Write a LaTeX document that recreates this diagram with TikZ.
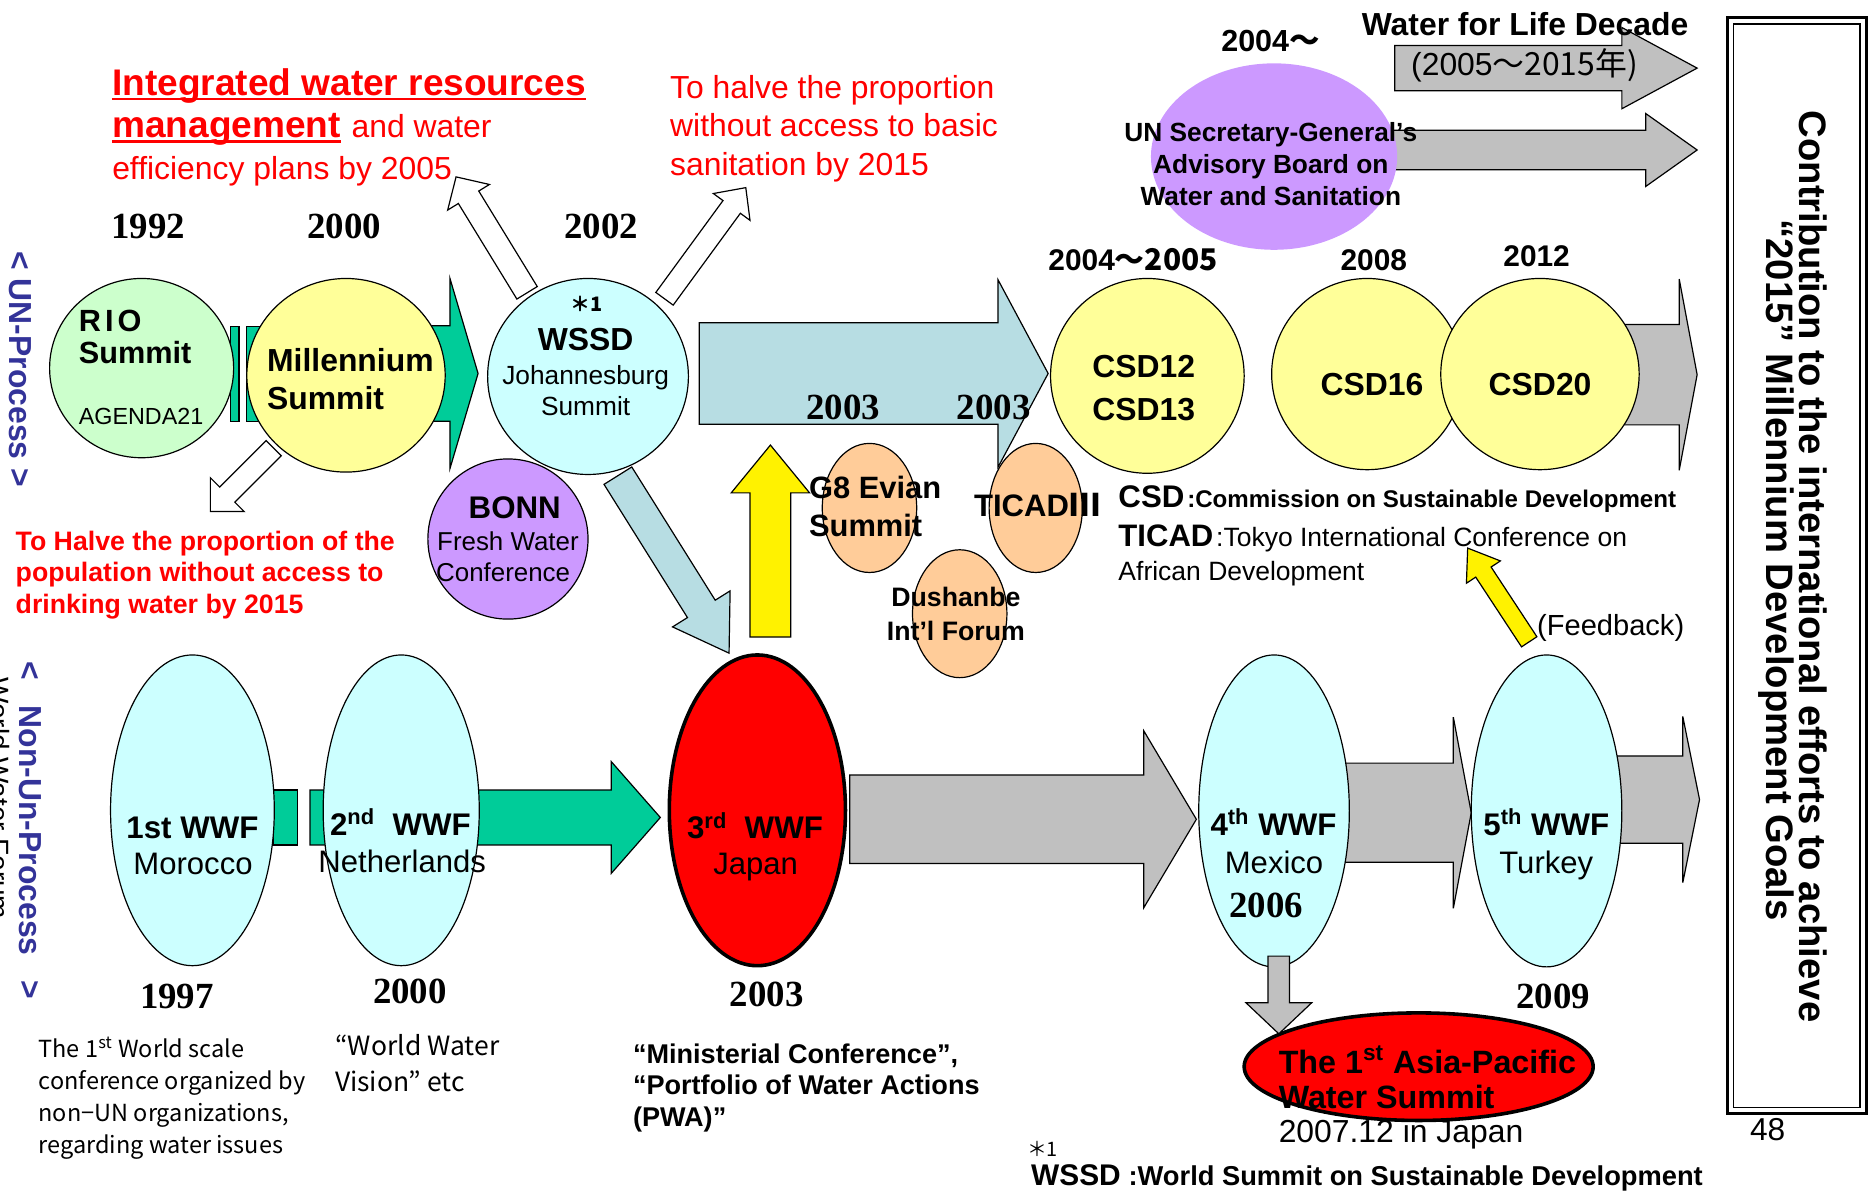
\documentclass[tikz,border=0pt]{standalone}
\usepackage{fontspec}
\setmainfont{Liberation Sans}
\newfontfamily\yearfont{Liberation Serif}
\newfontfamily\cjk{Noto Sans CJK JP}
\usetikzlibrary{shapes.geometric, calc, positioning}

\definecolor{ovgreen}{HTML}{CCFFCC}
\definecolor{ovyellow}{HTML}{FFFF99}
\definecolor{ovcyan}{HTML}{CCFFFF}
\definecolor{ovpurple}{HTML}{CC99FF}
\definecolor{ovpeach}{HTML}{FFCC99}
\definecolor{tealgreen}{HTML}{00CC99}
\definecolor{paleblue}{HTML}{B7DDE3}
\definecolor{arrgray}{HTML}{C0C0C0}
\definecolor{procblue}{HTML}{333399}

\newcommand{\setsz}[2]{\fontsize{#1}{#2}\selectfont}
% fat block arrow: [style]{tail}{tip}{body half width}{head half width}{head length}
\newcommand{\fatarrow}[6][]{%
  \coordinate (fah) at ($(#3)!#6*0.6pt!(#2)$);
  \draw[blockarrow,#1] ($(#2)!#4*0.6pt!90:(#3)$) -- ($(fah)!#4*0.6pt!90:(#3)$)
    -- ($(fah)!#5*0.6pt!90:(#3)$) -- (#3) -- ($(fah)!#5*0.6pt!-90:(#3)$)
    -- ($(fah)!#4*0.6pt!-90:(#3)$) -- ($(#2)!#4*0.6pt!-90:(#3)$) -- cycle;}

\begin{document}
\begin{tikzpicture}[x=0.6pt, y=-0.6pt,
    oval/.style 2 args={ellipse, draw, line width=0.6pt, inner sep=0pt,
      minimum width=#1*1.2pt, minimum height=#2*1.2pt},
    blockarrow/.style={draw, line width=0.6pt, line join=miter},
    txt/.style={inner sep=0pt, anchor=base},
    yr/.style={txt, font=\yearfont\bfseries\setsz{18.5}{22}},
    vlabel/.style={inner sep=0pt, rotate=-90, text=procblue, font=\bfseries\setsz{16}{19}}]

\useasboundingbox (0,0) rectangle (1568,1001);

% goals
\node[txt, anchor=base west, text=red, font=\bfseries\setsz{18.6}{22}] (iwrm1) at (93.6,79.5) {Integrated water resources};
\node[txt, anchor=base west, text=red, font=\bfseries\setsz{18.6}{22}] (iwrm2) at (93.6,115) {management};
\node[txt, anchor=base west, text=red, font=\setsz{16}{19}] (iwrm3) at ([xshift=5pt]iwrm2.base east) {and water};
\node[txt, anchor=base west, text=red, font=\setsz{16}{19}] (iwrm4) at (93.6,150.5) {efficiency plans by 2005};
\draw[red, line width=1.3pt] ([yshift=-2pt]iwrm1.base west) -- ([yshift=-2pt]iwrm1.base east);
\draw[red, line width=1.3pt] ([yshift=-2pt]iwrm2.base west) -- ([yshift=-2pt]iwrm2.base east);
\node[inner sep=0pt, anchor=north west, align=left, text=red, font=\setsz{16}{19.3}] (sanit) at (560.4,62.6)
  {To halve the proportion\\without access to basic\\sanitation by 2015};
\node[inner sep=0pt, anchor=north west, align=left, text=red, font=\bfseries\setsz{13.4}{16}] (drink) at (12.8,443.7)
  {To Halve the proportion of the\\population without access to\\drinking water by 2015};

\node[yr] (y1992) at (124,199.4) {1992};
\node[yr] (y2000) at (288,199.4) {2000};
\node[yr] (y2002) at (503,199.4) {2002};

% arrow ends
\coordinate (life-a) at (1167,57);     \coordinate (life-b) at (1420,57);
\coordinate (sg-a) at (1150,125.5);    \coordinate (sg-b) at (1420,125.5);
\coordinate (un-a) at (585,312.5);     \coordinate (un-b) at (877,312.5);
\coordinate (mw-a) at (330,312.5);     \coordinate (mw-b) at (400,312.5);
\coordinate (iw-a) at (441,245);       \coordinate (iw-b) at (381.6,148);
\coordinate (san-a) at (556,250);      \coordinate (san-b) at (624,157);
\coordinate (drk-a) at (229,375);      \coordinate (drk-b) at (176,428);
\coordinate (wj-a) at (517,398);       \coordinate (wj-b) at (610,546.5);
\coordinate (g8-a) at (644.6,533);     \coordinate (g8-b) at (644.6,372.4);
\coordinate (fb-a) at (1279.5,537);    \coordinate (fb-b) at (1228,458.6);
\coordinate (csd-a) at (1330,313.5);   \coordinate (csd-b) at (1420,313.5);
\coordinate (nl-a) at (259.4,684);     \coordinate (nl-b) at (552.5,684);
\coordinate (jp-a) at (711,685.5);     \coordinate (jp-b) at (1001,685.5);
\coordinate (mx-a) at (1110,680);      \coordinate (mx-b) at (1231,680);
\coordinate (tr-a) at (1340,669);      \coordinate (tr-b) at (1422,669);
\coordinate (ap-a) at (1070,800);      \coordinate (ap-b) at (1070,865);

% advisory board and decade
\fatarrow[fill=arrgray]{life-a}{life-b}{19}{34}{63}
\fatarrow[fill=arrgray]{sg-a}{sg-b}{16.5}{30.5}{43}
\node[oval={103}{78}, draw=none, fill=ovpurple] (unsg) at (1066,131) {};
\node[txt, font=\bfseries\setsz{15.3}{18}] (y2004) at (1063,43.3) {2004\cjk{～}};
\node[txt, font=\bfseries\setsz{16}{19}] (wfl) at (1276,30) {Water for Life Decade};
\node[txt, font=\setsz{16}{19}] (wfly) at (1275.6,63) {(2005\cjk{～}2015\cjk{年})};
\node[inner sep=0pt, anchor=north, align=center, font=\bfseries\setsz{13.2}{15.9}] (unsg-t) at (1063.3,102.5)
  {UN Secretary-General’s\\Advisory Board on\\Water and Sanitation};

% UN process
\fatarrow[fill=paleblue]{un-a}{un-b}{42.5}{78.5}{42}
\fatarrow[fill=tealgreen]{mw-a}{mw-b}{40}{79.5}{23.5}
\draw[blockarrow, fill=tealgreen] (193,273) rectangle (200,353);
\draw[blockarrow, fill=tealgreen] (206,273) rectangle (240,353);
\fatarrow[fill=white]{iw-a}{iw-b}{10}{20.5}{20}
\fatarrow[fill=white]{san-a}{san-b}{9}{19}{20}
\fatarrow[fill=white]{drk-a}{drk-b}{9}{20}{20}
\fatarrow[fill=paleblue]{wj-a}{wj-b}{13.7}{28.4}{43.7}
\fatarrow[fill=arrgray]{csd-a}{csd-b}{42}{80}{15}

\node[oval={77}{75}, fill=ovgreen] (rio) at (118.5,308) {};
\node[oval={83}{81}, fill=ovyellow] (mill) at (289.5,314) {};
\node[oval={84}{82}, fill=ovcyan] (wssd) at (492,315) {};
\node[oval={67}{67}, fill=ovpurple] (bonn) at (425,451) {};
\node[oval={81}{81.5}, fill=ovyellow] (csd12) at (960,314.5) {};
\node[oval={80}{80}, fill=ovyellow] (csd16) at (1144,313) {};
\node[oval={83}{80}, fill=ovyellow] (csd20) at (1288.5,313) {};
\node[oval={39.5}{54}, fill=ovpeach] (g8) at (727.5,425) {};
\node[oval={39}{54}, fill=ovpeach] (ticad) at (866.6,425) {};
\node[oval={39.5}{53.5}, fill=ovpeach] (dush) at (803,513.5) {};
\fatarrow[fill=yellow]{g8-a}{g8-b}{17}{32.8}{40}
\fatarrow[fill=yellow]{fb-a}{fb-b}{7.7}{17}{24}

\node[txt, anchor=base west, font=\bfseries\setsz{15.4}{18}] (rio-t) at (65.7,277) {R\kern2pt I\kern2pt O};
\node[txt, anchor=base west, font=\bfseries\setsz{15.4}{18}] (rio-s) at (65.7,304) {Summit};
\node[txt, anchor=base west, font=\setsz{11.7}{14}] (rio-a) at (65.7,355) {AGENDA21};
\node[txt, anchor=base west, font=\bfseries\setsz{16}{19}] (mill-t) at (223.2,311) {Millennium};
\node[txt, anchor=base west, font=\bfseries\setsz{16}{19}] (mill-s) at (223.2,343) {Summit};
\node[txt, font=\bfseries\setsz{10}{12}] (wssd-n) at (491,261) {\cjk{＊}1};
\node[txt, font=\bfseries\setsz{16}{19}] (wssd-t) at (490,293) {WSSD};
\node[txt, font=\setsz{13.2}{16}] (wssd-j) at (490,322) {Johannesburg};
\node[txt, font=\setsz{13.2}{16}] (wssd-s) at (490,347.5) {Summit};
\node[txt, font=\bfseries\setsz{15.7}{19}] (bonn-t) at (430.7,433.6) {BONN};
\node[txt, font=\setsz{13}{16}] (bonn-f) at (425,460.8) {Fresh Water};
\node[txt, font=\setsz{13}{16}] (bonn-c) at (421,486.7) {Conference};
\node[yr] (y2003a) at (705.5,350.8) {2003};
\node[yr] (y2003b) at (831.5,350.8) {2003};
\node[txt, font=\bfseries\setsz{15}{18}] (y0405) at (948,226) {2004\cjk{～}2005};
\node[txt, font=\bfseries\setsz{15}{18}] (y2008) at (1149.5,226) {2008};
\node[txt, font=\bfseries\setsz{15}{18}] (y2012) at (1285.7,223) {2012};
\node[inner sep=0pt, anchor=north, align=center, font=\bfseries\setsz{16}{21.6}] (csd12-t) at (957,296.5) {CSD12\\CSD13};
\node[txt, font=\bfseries\setsz{16}{19}] (csd16-t) at (1148,330.5) {CSD16};
\node[txt, font=\bfseries\setsz{16}{19}] (csd20-t) at (1288.6,330.5) {CSD20};
\node[txt, anchor=base west, font=\bfseries\setsz{15.5}{19}] (g8-t) at (676.6,416.8) {G8 Evian};
\node[txt, anchor=base west, font=\bfseries\setsz{15.5}{19}] (g8-s) at (676.6,449) {Summit};
\node[txt, anchor=base west, font=\bfseries\setsz{15.6}{19}] (ticad-t) at (814.7,432.4) {TICAD\cjk{Ⅲ}};
\node[txt, font=\bfseries\setsz{13.4}{16}] (dush-t) at (799.8,507.7) {Dushanbe};
\node[txt, font=\bfseries\setsz{13.4}{16}] (dush-f) at (799.8,535.6) {Int’l Forum};

% abbreviations
\node[txt, anchor=base west, font=\bfseries\setsz{15.7}{19}] (leg-csd) at (935.5,425) {CSD};
\node[txt, anchor=base west, font=\bfseries\setsz{12.1}{15}] (leg-csd2) at ([xshift=1pt]leg-csd.base east) {:Commission on Sustainable Development};
\node[txt, anchor=base west, font=\bfseries\setsz{15.6}{19}] (leg-ti) at (935.5,457.5) {TICAD};
\node[txt, anchor=base west, font=\setsz{13.3}{16}] (leg-ti2) at ([xshift=1pt]leg-ti.base east) {:Tokyo International Conference on};
\node[txt, anchor=base west, font=\setsz{13.3}{16}] (leg-ti3) at (935.5,485.5) {African Development};
\node[txt, anchor=base west, font=\setsz{14.6}{17}] (feedb) at (1285.8,531.4) {(Feedback)};

% non-UN process
\draw[blockarrow, fill=tealgreen] (229,661) rectangle (249,707);
\fatarrow[fill=tealgreen]{nl-a}{nl-b}{23}{46.7}{41}
\fatarrow[fill=arrgray]{jp-a}{jp-b}{37}{74}{44}
\fatarrow[fill=arrgray]{mx-a}{mx-b}{41.5}{80}{15}
\fatarrow[fill=arrgray]{tr-a}{tr-b}{36.5}{69.5}{14}
\node[oval={68.5}{130}, fill=ovcyan] (wwf1) at (161,678) {};
\node[oval={65.3}{130}, fill=ovcyan] (wwf2) at (335.7,678) {};
\node[oval={73.7}{130}, fill=red, line width=1.8pt] (wwf3) at (633.7,678) {};
\node[oval={63}{130.5}, fill=ovcyan] (wwf4) at (1066,678.5) {};
\node[oval={63}{130.5}, fill=ovcyan] (wwf5) at (1294,678.5) {};
\node[oval={146}{45}, fill=red, line width=1.8pt] (asia) at (1187,892.5) {};
\fatarrow[fill=arrgray]{ap-a}{ap-b}{9}{27.5}{26}

\node[txt, font=\bfseries\setsz{15.7}{19}] (wwf1-t) at (161,701.5) {1st WWF};
\node[txt, font=\setsz{15.6}{19}] (wwf1-p) at (161.5,732) {Morocco};
\node[txt, font=\bfseries\setsz{15.7}{19}] (wwf2-t) at (335,698.7) {2\textsuperscript{nd}\ \ WWF};
\node[txt, font=\setsz{15.6}{19}] (wwf2-p) at (336.5,729.8) {Netherlands};
\node[txt, font=\bfseries\setsz{15.7}{19}] (wwf3-t) at (631.7,701.5) {3\textsuperscript{rd}\ \ WWF};
\node[txt, font=\setsz{15.6}{19}] (wwf3-p) at (632.2,732) {Japan};
\node[txt, font=\bfseries\setsz{15.7}{19}] (wwf4-t) at (1065.5,698.7) {4\textsuperscript{th} WWF};
\node[txt, font=\setsz{15.6}{19}] (wwf4-p) at (1066,730.6) {Mexico};
\node[yr] (y2006) at (1059.5,767.6) {2006};
\node[txt, font=\bfseries\setsz{15.7}{19}] (wwf5-t) at (1293.8,698.7) {5\textsuperscript{th} WWF};
\node[txt, font=\setsz{15.6}{19}] (wwf5-p) at (1293.8,730.6) {Turkey};
\node[yr] (y1997) at (148,843.6) {1997};
\node[yr] (y2000b) at (343,839.5) {2000};
\node[yr] (y2003c) at (641.5,842.4) {2003};
\node[yr] (y2009) at (1299.6,843.5) {2009};

\node[inner sep=0pt, anchor=north west, align=left, font=\cjk\setsz{11.8}{16.1}] (wwf1-n) at (32,867.6)
  {The 1\textsuperscript{st} World scale\\conference organized by\\non−UN organizations,\\regarding water issues};
\node[inner sep=0pt, anchor=north west, align=left, font=\cjk\setsz{13.3}{18}] (wwf2-n) at (280,865.5)
  {“World Water\\Vision” etc};
\node[inner sep=0pt, anchor=north west, align=left, font=\bfseries\setsz{13.6}{15.9}] (wwf3-n) at (529.3,872.8)
  {“Ministerial Conference”,\\“Portfolio of Water Actions\\(PWA)”};
\node[inner sep=0pt, anchor=north west, align=left, font=\bfseries\setsz{16.2}{17.5}] (asia-t) at (1069.6,875)
  {The 1\textsuperscript{st} Asia-Pacific\\Water Summit};
\node[txt, anchor=base west, font=\setsz{16}{19}] (asia-d) at (1069.6,956) {2007.12 in Japan};
\node[txt, anchor=base west, font=\setsz{15.9}{19}] (pageno) at (1464,954) {48};
\node[txt, anchor=base west, font=\setsz{10}{12}] (fn-n) at (859,968) {\cjk{＊}1};
\node[txt, anchor=base west, font=\bfseries\setsz{15}{18}] (fn-w) at (862.4,991.7) {WSSD};
\node[txt, anchor=base west, font=\bfseries\setsz{13.7}{16}] (fn-w2) at (944,991.7) {:World Summit on Sustainable Development};

% side labels
\node[vlabel] (unproc) at (17,309) {<\ UN-Process\ >};
\node[vlabel] (nonproc) at (25,695) {<\hspace{0.8em}Non-Un-Process\hspace{0.8em}>};
\begin{scope}
  \clip (0,0) rectangle (1568,1001);
  \node[txt, rotate=-90, font=\setsz{14}{16}] (wwf-cut) at (-9,668) {World Water Forum};
\end{scope}

% MDG box
\draw[line width=1.5pt] (1445,15) rectangle (1562,932);
\draw[line width=0.8pt] (1450.5,20) rectangle (1556.5,926.5);
\node[inner sep=0pt, rotate=-90, font=\bfseries\setsz{19.2}{23}] (mdg1) at (1517,474) {Contribution to the international efforts to achieve};
\node[inner sep=0pt, rotate=-90, font=\bfseries\setsz{19.2}{23}] (mdg2) at (1486,477) {“2015” Millennium Development Goals};
\end{tikzpicture}
\end{document}
